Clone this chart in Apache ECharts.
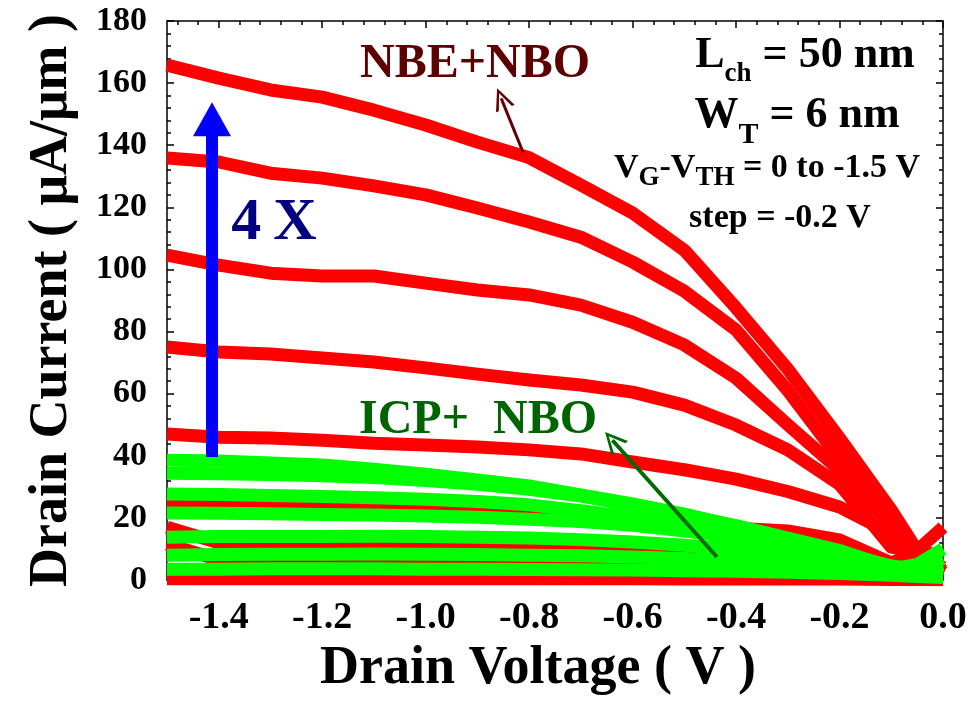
<!DOCTYPE html>
<html>
<head>
<meta charset="utf-8">
<title>Drain Current vs Drain Voltage</title>
<script src="https://cdn.jsdelivr.net/npm/echarts@6/dist/echarts.min.js"></script>
<style>
  html, body { margin: 0; padding: 0; background: #fff; }
  #main { width: 980px; height: 707px; }
</style>
</head>
<body>
<div id="main"></div>
<script>
// drain voltage samples (V)
var vd = [-1.5, -1.4, -1.3, -1.2, -1.1, -1.0, -0.9, -0.8, -0.7, -0.6, -0.5, -0.4, -0.3, -0.2, -0.1, -0.05, 0];

// NBE+NBO curves (red), uA/um
var nbe1 = [165.8, 161.6, 157.8, 155.5, 151.3, 146.5, 141, 136, 127.2, 118.2, 106.2, 87.6, 67.9, 45.7, 22.5, 9.5, 17];
var nbe2 = [135.9, 134.6, 131, 129.4, 126.9, 124, 119.8, 115.3, 110.4, 102.4, 93, 80.5, 61, 39, 19.3, 9, 8];
var nbe3 = [104.6, 101.4, 98.8, 97.9, 97.9, 95.6, 93.4, 91.8, 88.5, 83, 75.7, 65, 50, 35.4, 17.7, 9, 4];
var nbe4 = [75, 73.4, 72.8, 71.5, 70.2, 68.3, 66.3, 64.4, 62.8, 60.5, 56.3, 49.9, 41.9, 30.8, 10.6, 9, 3];
var nbe5 = [47, 46, 45.7, 45, 44, 43.5, 42.8, 41.9, 40.6, 38, 35.5, 32.5, 28.5, 23.5, 15, 9.7, 2.5];
var nbe6 = [25.5, 25, 24.5, 24, 23.5, 22.5, 22, 21.5, 20.5, 19.5, 18, 16.7, 15.8, 12.9, 5.5, 8.7, 3];
var nbe7 = [17, 12, 11.5, 11, 10.8, 10.5, 10, 9.8, 9.5, 9, 8.5, 8, 7, 5.5, 3.5, 5, 1.5];
var nbe8 = [11.5, 6.5, 6, 5.8, 5.8, 5.7, 5.6, 5.5, 5.3, 5, 4.8, 4.5, 4, 3.3, 2.5, 3, 1];
var nbe9 = [0.4, 0.4, 0.4, 0.4, 0.4, 0.4, 0.4, 0.4, 0.4, 0.4, 0.3, 0.3, 0.3, 0.3, 0.2, 0.2, 0.1];

// ICP+NBO curves (green)
var icp1 = [38.6, 38.3, 37.7, 37, 35.7, 34.1, 32.2, 30.3, 27.4, 24.5, 21.2, 17.2, 13, 8.7, 3.5, 5, 10];
var icp2 = [34.4, 34.2, 34, 33.6, 33, 32, 30.8, 29.2, 27, 24, 21, 17.5, 13.5, 9.5, 4, 4, 7];
var icp3 = [27.7, 27.5, 27.2, 26.9, 26.5, 26, 25.3, 24.2, 22.3, 20.2, 18, 15.5, 12.3, 8.8, 4.5, 3.5, 5];
var icp4 = [21.6, 21.5, 21.3, 21.1, 20.9, 20.6, 20.2, 19.6, 18.8, 17.6, 15.8, 13.5, 10.8, 7.8, 4.5, 3, 3.5];
var icp5 = [13.8, 14, 14, 14, 14.1, 14, 13.8, 13.5, 13, 12.2, 11.2, 9.8, 8.2, 6.2, 3.8, 2.5, 2];
var icp6 = [8, 8.2, 8.3, 8.3, 8.4, 8.3, 8.2, 8, 7.8, 7.4, 6.9, 6.2, 5.3, 4.2, 2.8, 2, 1.5];
var icp7 = [3.5, 3.5, 3.6, 3.6, 3.6, 3.5, 3.5, 3.4, 3.3, 3.2, 3, 2.8, 2.5, 2.1, 1.5, 1.1, 0.8];

// ticks
var xTicks = [-1.4, -1.2, -1.0, -0.8, -0.6, -0.4, -0.2, 0];
var xMinor = [];
for (var k = -37; k <= 0; k++) {
  if (k % 5 !== 0) xMinor.push(+(k * 0.04).toFixed(2));
}

// annotation arrows [tail, head]
var blueArrow = [[-1.413, 39.6], [-1.413, 148.4]];
var nbeArrow = [[-0.812, 137.8], [-0.854, 155.1]];
var icpArrow = [[-0.437, 7.4], [-0.639, 45.0]];

var SERIF = "'Liberation Serif', 'Times New Roman', serif";
var chevron = 'path://M0,20 L10,0 L20,20 L17,20 L10,5 L3,20 Z';

function curve(arr, color) {
  return {
    type: 'line',
    data: vd.map(function (x, i) { return [x, arr[i]]; }),
    symbol: 'none',
    silent: true,
    clip: true,
    lineStyle: { color: color, width: 13, join: 'round', cap: 'butt' },
    itemStyle: { color: color }
  };
}

function arrow(pts, color, width, head, size) {
  return {
    type: 'line',
    data: [],
    silent: true,
    z: 5,
    markLine: {
      silent: true,
      animation: false,
      symbol: ['none', 'none'],
      label: { show: false },
      lineStyle: { color: color, width: width, type: 'solid', opacity: 1 },
      emphasis: { disabled: true },
      data: [[
        { coord: pts[0], symbol: 'none' },
        { coord: pts[1], symbol: head, symbolSize: size }
      ]]
    }
  };
}

function tickAxis(pos, major, isX) {
  var ax = {
    type: 'value',
    position: pos,
    axisLine: { show: major, onZero: false, lineStyle: { color: '#000', width: 1.5 } },
    axisTick: { show: true, inside: true, length: major ? 7 : 4, lineStyle: { color: '#000', width: 1.5 } },
    axisLabel: { show: false },
    splitLine: { show: false }
  };
  if (isX) {
    ax.min = -1.5; ax.max = 0;
    ax.axisTick.customValues = major ? xTicks : xMinor;
  }
  return ax;
}

var chart = echarts.init(document.getElementById('main'));

var xBottom = tickAxis('bottom', true, true);
xBottom.axisLabel = {
  show: true, customValues: xTicks, margin: 19,
  formatter: function (v) { return v.toFixed(1); },
  color: '#000', fontSize: 38, fontWeight: 'bold', fontFamily: SERIF
};
xBottom.name = 'Drain Voltage ( V )';
xBottom.nameLocation = 'middle';
xBottom.nameGap = 55;
xBottom.nameTextStyle = { color: '#000', fontSize: 54, fontWeight: 'bold', fontFamily: SERIF, padding: [0, 34, 0, 0] };

var yAxes = ['left', 'right'].map(function (pos) {
  return {
    type: 'value',
    position: pos,
    min: 0, max: 180, interval: 20,
    axisLine: { show: true, onZero: false, lineStyle: { color: '#000', width: 1.5 } },
    axisTick: { show: true, inside: true, length: 7, lineStyle: { color: '#000', width: 1.5 } },
    minorTick: { show: true, splitNumber: 5, length: 4, lineStyle: { color: '#000', width: 1.5 } },
    axisLabel: { show: pos === 'left', margin: 20, color: '#000', fontSize: 34, fontWeight: 'bold', fontFamily: SERIF },
    splitLine: { show: false }
  };
});
yAxes[0].name = 'Drain Current ( \u03bcA/\u03bcm )';
yAxes[0].nameLocation = 'middle';
yAxes[0].nameRotate = 90;
yAxes[0].nameGap = 88;
yAxes[0].nameTextStyle = { color: '#000', fontSize: 54, fontWeight: 'bold', fontFamily: SERIF };

var series = [];
[nbe1, nbe2, nbe3, nbe4, nbe5, nbe6, nbe7, nbe8, nbe9].forEach(function (a) { series.push(curve(a, '#ff0000')); });
[icp1, icp2, icp3, icp4, icp5, icp6, icp7].forEach(function (a) { series.push(curve(a, '#00ff00')); });
series.push(arrow(blueArrow, '#0000ff', 12, 'triangle', [38, 34]));
series.push(arrow(nbeArrow, '#600000', 3, chevron, [20, 22]));
series.push(arrow(icpArrow, '#006a00', 4, chevron, [22, 22]));

function label(x, y, text, size, color, rich) {
  return {
    type: 'text', x: x, y: y, z: 100, silent: true,
    style: {
      text: text, fill: color, align: 'center', verticalAlign: 'middle',
      fontSize: size, fontWeight: 'bold', fontFamily: SERIF, rich: rich
    }
  };
}

// subscript: a short token box aligned to the bottom of the line pushes the glyphs down
function subRich(main, sub, boxH) {
  return {
    m: { fontSize: main, lineHeight: main, fontWeight: 'bold', fontFamily: SERIF, fill: '#000', verticalAlign: 'top' },
    s: { fontSize: sub, height: boxH, lineHeight: boxH, fontWeight: 'bold', fontFamily: SERIF, fill: '#000', verticalAlign: 'bottom' }
  };
}

chart.setOption({
  animation: false,
  backgroundColor: '#fff',
  grid: { left: 167, right: 37, top: 21, bottom: 127, containLabel: false },
  xAxis: [xBottom, tickAxis('bottom', false, true), tickAxis('top', true, true), tickAxis('top', false, true)],
  yAxis: yAxes,
  series: series,
  graphic: [
    label(274, 223, '4\u2009X', 60, '#000080'),
    label(475, 65, 'NBE+NBO', 48, '#5e0000'),
    label(478, 421, 'ICP+  NBO', 48, '#006400'),
    label(805, 56, '{m|L}{s|ch}{m| = 50 nm}', 44, '#000', subRich(44, 27, 8)),
    label(797, 116, '{m|W}{s|T}{m| = 6 nm}', 44, '#000', subRich(44, 30, 6)),
    label(767, 168, '{m|V}{s|G}{m|-V}{s|TH}{m| = 0 to -1.5 V}', 34, '#000', subRich(34, 27, 13)),
    label(780, 218, 'step = -0.2 V', 34, '#000')
  ]
});
</script>
</body>
</html>
